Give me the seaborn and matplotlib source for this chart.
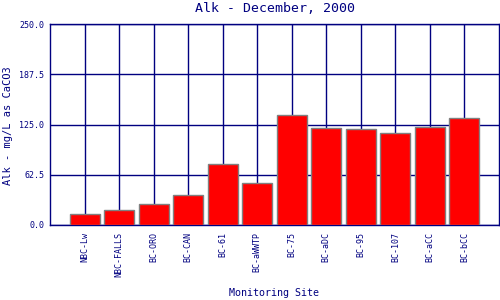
import matplotlib
matplotlib.use("Agg")
import matplotlib.pyplot as plt
import seaborn as sns
import pandas as pd

sites = ["NBC-Lw", "NBC-FALLS", "BC-ORO", "BC-CAN", "BC-61", "BC-aWWTP",
         "BC-75", "BC-aDC", "BC-95", "BC-107", "BC-aCC", "BC-bCC"]
alk = [13.3, 18.7, 25.7, 36.9, 75.9, 51.8, 137.4, 120.2, 119.0, 114.0, 121.5, 133.7]
yticks = [0.0, 62.5, 125.0, 187.5, 250.0]
ytick_labels = ["0.0", "62.5", "125.0", "187.5", "250.0"]

NAVY = "#000080"
sns.set_style("white")
plt.rcParams["font.family"] = ["DejaVu Sans Mono"]

df = pd.DataFrame({"site": sites, "alk": alk})

fig = plt.figure(figsize=(5, 3), dpi=100)
ax = fig.add_axes([50 / 500, 75 / 300, 449 / 500, 201 / 300])

sns.barplot(data=df, x="site", y="alk", color="#FF0000", edgecolor="#808080",
            linewidth=1.0, width=0.87, saturation=1, ax=ax, zorder=3)

ax.set_xlim(-1, 12)
ax.set_ylim(0, 250)
ax.set_yticks(yticks)
ax.set_yticklabels(ytick_labels)
ax.grid(True, color=NAVY, linewidth=1.0, zorder=0)
ax.set_axisbelow(True)
for s in ax.spines.values():
    s.set_color(NAVY)
    s.set_linewidth(1.0)
    s.set_visible(True)

ax.tick_params(axis="both", length=0, colors=NAVY, labelsize=6)
ax.tick_params(axis="y", pad=4)
ax.tick_params(axis="x", pad=5)
for lab in ax.get_xticklabels():
    lab.set_rotation(90)
ax.set_xlabel("")
ax.set_ylabel("")

fig.text(275 / 500, 1 - 8.5 / 300, "Alk - December, 2000", ha="center", va="center",
         color=NAVY, fontsize=9.5)
fig.text(274 / 500, 1 - 293 / 300, "Monitoring Site", ha="center", va="center",
         color=NAVY, fontsize=7.2)
fig.text(8 / 500, 1 - 126 / 300, "Alk - mg/L as CaCO3", ha="center", va="center",
         rotation=90, color=NAVY, fontsize=7.5)

fig.savefig("out.png", dpi=100)
